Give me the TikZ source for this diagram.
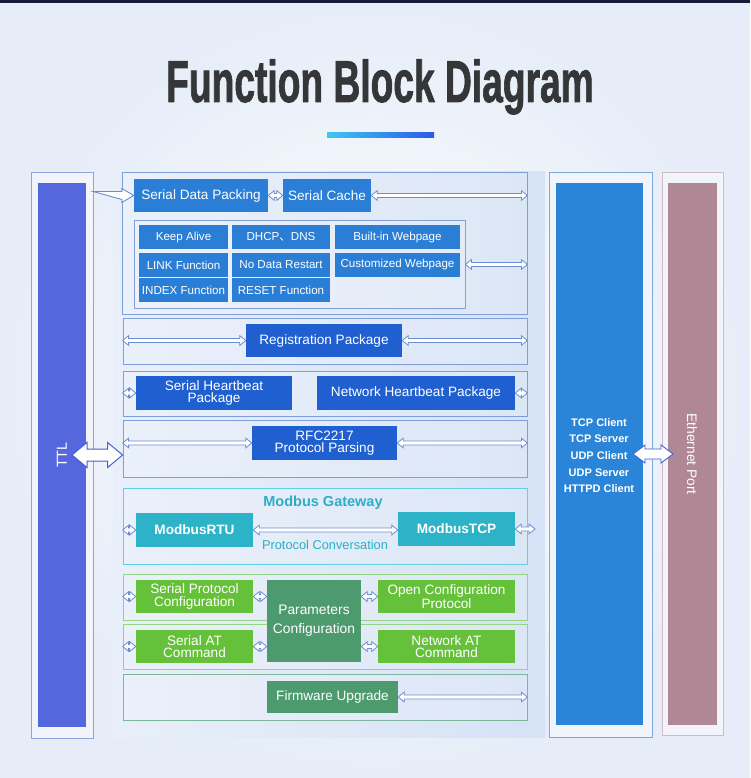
\documentclass[tikz,border=0pt]{standalone}
\usepackage{graphicx}
\usepackage{fontspec}
\setmainfont{Liberation Sans}
\newfontfamily\cjk{Noto Sans CJK SC}
\newfontfamily\titlefont[FakeBold=1.6]{Liberation Sans Bold}
\usetikzlibrary{calc}

\definecolor{pagebg}{HTML}{E6EDF8}
\definecolor{topbar}{HTML}{141C3A}
\definecolor{titlegrey}{HTML}{353638}
\definecolor{barcyan}{HTML}{3FC6F2}
\definecolor{barblue}{HTML}{2A5BE6}
\definecolor{panelL}{HTML}{E8EFFA}
\definecolor{panelR}{HTML}{D6E2F5}
\definecolor{frameblue}{HTML}{7F9FDA}
\definecolor{cellblue}{HTML}{2A7ED5}
\definecolor{deepblue}{HTML}{1F5FCF}
\definecolor{mbcyan}{HTML}{62D0E2}
\definecolor{mbteal}{HTML}{2DB3C8}
\definecolor{mbtext}{HTML}{2AAFC6}
\definecolor{leafgreen}{HTML}{66C13A}
\definecolor{leafframe}{HTML}{95D385}
\definecolor{sage}{HTML}{4C9A6E}
\definecolor{sageframe}{HTML}{7DB79A}
\definecolor{ttlblue}{HTML}{5567DC}
\definecolor{ttlframe}{HTML}{90A4E2}
\definecolor{netblue}{HTML}{2A84D8}
\definecolor{netframe}{HTML}{7AAAD9}
\definecolor{ethmauve}{HTML}{B08794}
\definecolor{ethframe}{HTML}{D3BBC3}
\definecolor{sidebg}{HTML}{F1F4FB}
\definecolor{arrowline}{HTML}{6C8CD5}
\definecolor{bigarrow}{HTML}{4262D2}

\tikzset{
  box/.style={fill=#1, text=white, inner sep=0pt, align=center,
    font=\fontsize{13.6}{12.4}\selectfont},
  cell/.style={fill=cellblue, text=white, inner sep=0pt, minimum height=24,
    font=\fontsize{11.6}{13}\selectfont},
  rowframe/.style={draw=#1, line width=0.8pt, inner sep=0pt, fill=white, fill opacity=0.15},
  dbl/.style n args={3}{fill=white, line join=miter,
    to path={let \p1=(\tikztostart), \p2=(\tikztotarget) in
      (\x1,\y1) -- (\x1+#3,\y1+#2) -- (\x1+#3,\y1+#1) -- (\x2-#3,\y1+#1)
      -- (\x2-#3,\y1+#2) -- (\x2,\y1) -- (\x2-#3,\y1-#2) -- (\x2-#3,\y1-#1)
      -- (\x1+#3,\y1-#1) -- (\x1+#3,\y1-#2) -- cycle}},
  sgl/.style n args={3}{fill=white, line join=miter,
    to path={let \p1=(\tikztostart), \p2=(\tikztotarget) in
      (\x1,\y1+#1) -- (\x2-#3,\y1+#1) -- (\x2-#3,\y1+#2) -- (\x2,\y1)
      -- (\x2-#3,\y1-#2) -- (\x2-#3,\y1-#1) -- cycle}},
  lnk/.style={dbl={2pt}{4.8pt}{6pt}, draw=arrowline, line width=0.8pt},
  bigdbl/.style={dbl={6pt}{12.5pt}{15pt}, draw=bigarrow, line width=1pt},
  netdbl/.style={dbl={5pt}{9pt}{12pt}, draw=bigarrow, line width=0.9pt},
  inarrow/.style={sgl={4pt}{7pt}{12pt}, draw=arrowline, line width=0.9pt},
}

\begin{document}
\begin{tikzpicture}[x=1pt,y=-1pt]
% background and title
\shade[inner color=white, outer color=pagebg] (0,0) rectangle (750,778);
\fill[topbar] (0,0) rectangle (750,3);
\node[anchor=base, text=titlegrey, inner sep=0pt,
  font=\fontsize{59}{59}\titlefont] (title) at (380,102)
  {\scalebox{0.63}[1]{Function Block Diagram}};
\shade[left color=barcyan, right color=barblue] (327,133) rectangle (434,137.5);

% side columns
\node[draw=ttlframe, fill=sidebg, minimum width=62, minimum height=566] (ttlbox) at (62,455) {};
\node[fill=ttlblue, minimum width=48, minimum height=544] (ttlbar) at (62,455) {};
\node[rotate=90, text=white, font=\fontsize{14.5}{15}\selectfont] (ttl) at (62,455) {TTL};

\node[draw=netframe, fill=sidebg, minimum width=103, minimum height=565] (netbox) at (600.5,454.5) {};
\node[fill=netblue, minimum width=87, minimum height=542] (netbar) at (599.5,454) {};
\node[text=white, align=center, font=\fontsize{11}{16.7}\selectfont\bfseries] (proto) at (599,455.5)
  {TCP Client\\TCP Server\\UDP Client\\UDP Server\\HTTPD Client};

\node[draw=ethframe, fill=sidebg, minimum width=61, minimum height=563] (ethbox) at (692.5,453.5) {};
\node[fill=ethmauve, minimum width=49, minimum height=542] (ethbar) at (692.5,454) {};
\node[rotate=-90, text=white, font=\fontsize{13.8}{15}\selectfont] (eth) at (692,454) {Ethernet Port};

% main panel
\shade[left color=panelL, right color=panelR] (113,172) rectangle (545,737);

\node[rowframe=frameblue, minimum width=405, minimum height=142] (row1) at (324.5,243) {};
\node[rowframe=frameblue, minimum width=404, minimum height=46] (row2) at (325,341) {};
\node[rowframe=frameblue, minimum width=404, minimum height=45] (row3) at (325,393.5) {};
\node[rowframe=frameblue, minimum width=404, minimum height=57] (row4) at (325,448.5) {};
\node[rowframe=mbcyan, minimum width=404, minimum height=76] (mbus) at (325,526) {};
\node[rowframe=leafframe, minimum width=404, minimum height=46] (row6) at (325,597) {};
\node[rowframe=leafframe, minimum width=404, minimum height=45] (row7) at (325,646.5) {};
\node[rowframe=sageframe, minimum width=404, minimum height=46] (row8) at (325,697) {};

% serial data path
\node[box=cellblue, minimum width=134, minimum height=33] (pack) at (201,195.5) {Serial Data Packing};
\node[box=cellblue, minimum width=88, minimum height=33] (cache) at (327,195.5) {Serial Cache};

\node[rowframe=frameblue, minimum width=331, minimum height=88] (funcs) at (299.5,264) {};
\node[cell, minimum width=89] (alive) at (183.5,237) {Keep Alive};
\node[cell, minimum width=98] (dhcp) at (281,237) {DHCP{\cjk 、}DNS};
\node[cell, minimum width=125] (web) at (397.5,237) {Built-in Webpage};
\node[cell, minimum width=89] (link) at (183.5,265) {LINK Function};
\node[cell, minimum width=98] (restart) at (281,265) {No Data Restart};
\node[cell, minimum width=125] (cust) at (397.5,264.5) {Customized Webpage};
\node[cell, minimum width=89] (index) at (183.5,290) {INDEX Function};
\node[cell, minimum width=98] (reset) at (281,290) {RESET Function};

% packages
\node[box=deepblue, minimum width=156, minimum height=33] (reg) at (324,340.5) {Registration Package};
\node[box=deepblue, minimum width=156, minimum height=34] (shb) at (214,393) {Serial Heartbeat\\Package};
\node[box=deepblue, minimum width=198, minimum height=34] (nhb) at (416,393) {Network Heartbeat Package};
\node[box=deepblue, minimum width=145, minimum height=34] (rfc) at (324.5,443) {RFC2217\\Protocol Parsing};

% modbus
\node[text=mbtext, inner sep=0pt, font=\fontsize{14.5}{15}\selectfont\bfseries] (mbtitle) at (323,503) {Modbus Gateway};
\node[box=mbteal, minimum width=117, minimum height=34, font=\fontsize{13.6}{14}\selectfont\bfseries] (rtu) at (194.5,530) {ModbusRTU};
\node[box=mbteal, minimum width=117, minimum height=34, font=\fontsize{13.6}{14}\selectfont\bfseries] (tcp) at (456.5,529) {ModbusTCP};
\node[text=mbtext, inner sep=0pt, font=\fontsize{12.8}{14}\selectfont] (conv) at (325,545) {Protocol Conversation};
\coordinate (mbout) at (535,529);

% configuration
\node[box=leafgreen, minimum width=117, minimum height=33] (spc) at (194.5,596.5) {Serial Protocol\\Configuration};
\node[box=sage, minimum width=94, minimum height=82, font=\fontsize{13.8}{19}\selectfont] (params) at (314,621) {Parameters\\Configuration};
\node[box=leafgreen, minimum width=137, minimum height=33] (ocp) at (446.5,596.5) {Open Configuration\\Protocol};
\node[box=leafgreen, minimum width=117, minimum height=33] (sat) at (194.5,646.5) {Serial AT\\Command};
\node[box=leafgreen, minimum width=137, minimum height=33] (nat) at (446.5,646.5) {Network AT\\Command};
\node[box=sage, minimum width=131, minimum height=32] (fw) at (332.5,697) {Firmware Upgrade};

% connectors
\path[inarrow] (ttlbox.east |- pack) to (pack.west);
\path[lnk] (pack.east) to (cache.west);
\path[lnk] (cache.east) to (row1.east |- cache);
\path[lnk] (funcs.east |- cust) to (row1.east |- cust);
\path[lnk] (row2.west |- reg) to (reg.west);
\path[lnk] (reg.east) to (row2.east |- reg);
\path[lnk] (row3.west |- shb) to (shb.west);
\path[lnk] (nhb.east) to (row3.east |- nhb);
\path[lnk] (row4.west |- rfc) to (rfc.west);
\path[lnk] (rfc.east) to (row4.east |- rfc);
\path[lnk] (mbus.west |- rtu) to (rtu.west);
\path[lnk] (rtu.east) to (tcp.west |- rtu);
\path[lnk] (tcp.east) to (mbout);
\path[lnk] (row6.west |- spc) to (spc.west);
\path[lnk] (spc.east) to (params.west |- spc);
\path[lnk] (params.east |- ocp) to (ocp.west);
\path[lnk] (row7.west |- sat) to (sat.west);
\path[lnk] (sat.east) to (params.west |- sat);
\path[lnk] (params.east |- nat) to (nat.west);
\path[lnk] (fw.east) to (row8.east |- fw);

\coordinate (ttlport) at (72,455);
\path[bigdbl] (ttlport) to (row4.west |- ttlport);
\coordinate (netport) at (633,454);
\coordinate (ethport) at (673,454);
\path[netdbl] (netport) to (ethport);
\end{tikzpicture}
\end{document}
